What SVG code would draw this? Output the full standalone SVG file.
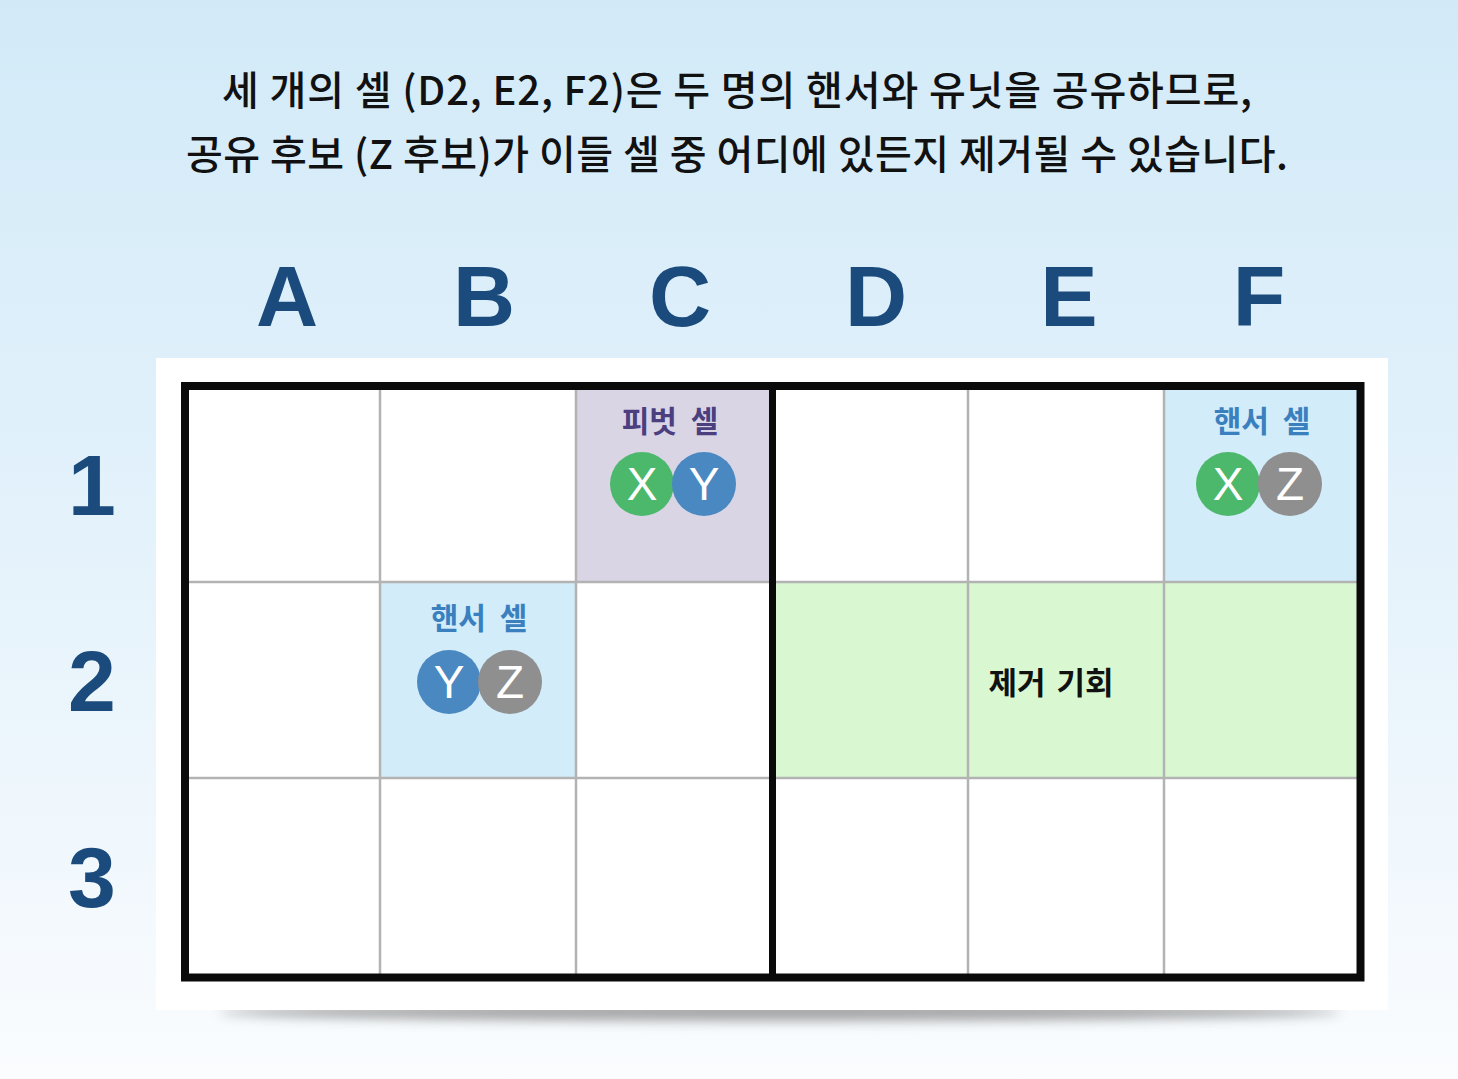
<svg xmlns="http://www.w3.org/2000/svg" width="1458" height="1079" viewBox="0 0 1458 1079">
  <defs>
    <linearGradient id="bg" x1="0" y1="0" x2="0" y2="1">
      <stop offset="0" stop-color="#d2eaf8"/>
      <stop offset="0.5" stop-color="#e4f2fb"/>
      <stop offset="1" stop-color="#fafcfe"/>
    </linearGradient>
    <filter id="blur" x="-20%" y="-200%" width="140%" height="500%">
      <feGaussianBlur stdDeviation="6"/>
    </filter>
  </defs>
  <style>
    .title { font-family: "Noto Sans CJK KR", "Noto Sans", sans-serif; font-size: 40px; font-weight: 500; fill: #111111; text-anchor: middle; }
    .hdr { font-family: "Liberation Sans", Arial, sans-serif; font-weight: bold; font-size: 86px; fill: #1b4b7c; text-anchor: middle; }
    .lbl { font-family: "Noto Sans CJK KR", sans-serif; font-weight: bold; font-size: 30px; word-spacing: 7px; text-anchor: middle; }
    .pivotlbl { fill: #4b3f80; }
    .pincerlbl { fill: #3a80bf; }
    .elim { font-family: "Noto Sans CJK KR", sans-serif; font-weight: bold; font-size: 31px; word-spacing: 4px; fill: #111111; text-anchor: middle; }
    .cand { font-family: "Liberation Sans", Arial, sans-serif; font-size: 46px; fill: #ffffff; text-anchor: middle; }
    .cx { fill: #4cb86c; }
    .cy { fill: #4a88c1; }
    .cz { fill: #8f8f8f; }
    .thin { stroke: #b3b3b3; stroke-width: 2.5; fill: none; }
    .thick { stroke: #0a0a0a; fill: none; }
  </style>

  <rect x="0" y="0" width="1458" height="1079" fill="url(#bg)"/>

  <g id="title">
    <text class="title" x="737" y="105" textLength="1030" lengthAdjust="spacing">세 개의 셀 (D2, E2, F2)은 두 명의 핸서와 유닛을 공유하므로,</text>
    <text class="title" x="737" y="169" textLength="1102" lengthAdjust="spacing">공유 후보 (Z 후보)가 이들 셀 중 어디에 있든지 제거될 수 있습니다.</text>
  </g>

  <g id="column-headers">
    <text class="hdr" x="287" y="326">A</text>
    <text class="hdr" x="484" y="326">B</text>
    <text class="hdr" x="680" y="326">C</text>
    <text class="hdr" x="876" y="326">D</text>
    <text class="hdr" x="1069" y="326">E</text>
    <text class="hdr" x="1259" y="326">F</text>
  </g>

  <g id="row-headers">
    <text class="hdr" x="92" y="515">1</text>
    <text class="hdr" x="92" y="711">2</text>
    <text class="hdr" x="92" y="907">3</text>
  </g>

  <g id="panel">
    <ellipse cx="780" cy="1012" rx="560" ry="9" fill="#6a6a6a" opacity="0.6" filter="url(#blur)"/>
    <rect x="156" y="358" width="1232" height="652" fill="#ffffff"/>
  </g>

  <g id="cell-C1-pivot">
    <rect x="576" y="386" width="196" height="196" fill="#d9d5e5"/>
    <text class="lbl pivotlbl" x="670" y="432">피벗 셀</text>
    <circle class="cx" cx="642" cy="484" r="32"/>
    <text class="cand" x="642" y="500">X</text>
    <circle class="cy" cx="704" cy="484" r="32"/>
    <text class="cand" x="704" y="500">Y</text>
  </g>

  <g id="cell-B2-pincer">
    <rect x="380" y="582" width="196" height="196" fill="#d2ecf9"/>
    <text class="lbl pincerlbl" x="479" y="629">핸서 셀</text>
    <circle class="cy" cx="449" cy="682" r="32"/>
    <text class="cand" x="449" y="698">Y</text>
    <circle class="cz" cx="510" cy="682" r="32"/>
    <text class="cand" x="510" y="698">Z</text>
  </g>

  <g id="cell-F1-pincer">
    <rect x="1164" y="386" width="196" height="196" fill="#d2ecf9"/>
    <text class="lbl pincerlbl" x="1262" y="432">핸서 셀</text>
    <circle class="cx" cx="1228" cy="484" r="32"/>
    <text class="cand" x="1228" y="500">X</text>
    <circle class="cz" cx="1290" cy="484" r="32"/>
    <text class="cand" x="1290" y="500">Z</text>
  </g>

  <g id="cells-D2-F2-elimination">
    <rect x="772" y="582" width="588" height="196" fill="#d9f8d1"/>
    <text class="elim" x="1051" y="694">제거 기회</text>
  </g>

  <g id="grid">
    <line class="thin" x1="380" y1="386" x2="380" y2="978"/>
    <line class="thin" x1="576" y1="386" x2="576" y2="978"/>
    <line class="thin" x1="968" y1="386" x2="968" y2="978"/>
    <line class="thin" x1="1164" y1="386" x2="1164" y2="978"/>
    <line class="thin" x1="185" y1="582" x2="1360" y2="582"/>
    <line class="thin" x1="185" y1="778" x2="1360" y2="778"/>
    <line class="thick" x1="772.5" y1="386" x2="772.5" y2="978" stroke-width="7"/>
    <rect class="thick" x="185" y="386" width="1175.5" height="591.5" stroke-width="8"/>
  </g>

  <g id="connectors"/>
</svg>
